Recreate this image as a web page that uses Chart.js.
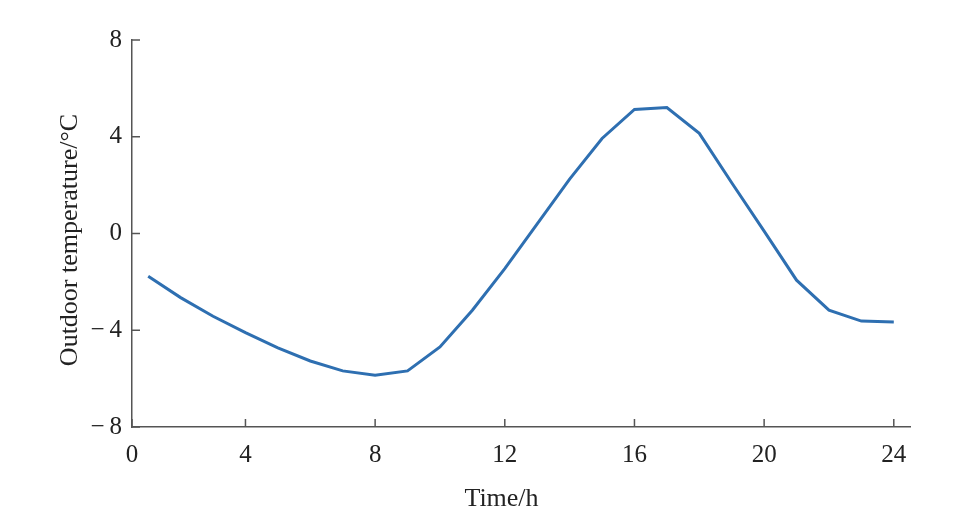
<!DOCTYPE html>
<html>
<head>
<meta charset="utf-8">
<script src="https://cdn.jsdelivr.net/npm/chart.js@4/dist/chart.umd.min.js"></script>
<style>
  html, body { margin: 0; padding: 0; background: #fff; }
  #wrap { width: 975px; height: 521px; }
</style>
</head>
<body>
<div id="wrap"><canvas id="tempChart" width="975" height="521"></canvas></div>
<script>
const hours = [1, 2, 3, 4, 5, 6, 7, 8, 9, 10, 11, 12, 13, 14, 15, 16, 17, 18, 19, 20, 21, 22, 23, 24];
const temps = [-1.77, -2.65, -3.42, -4.1, -4.73, -5.27, -5.68, -5.86, -5.68, -4.69, -3.17, -1.45,
               0.4, 2.25, 3.93, 5.13, 5.21, 4.14, 2.1, 0.1, -1.93, -3.17, -3.62, -3.66];
const xTickValues = [0.5, 4, 8, 12, 16, 20, 24];
const xTickLabels = ["0", "4", "8", "12", "16", "20", "24"];
const yTickValues = [-8, -4, 0, 4, 8];

const axisColor = "#555555";
const fontFamily = "'Liberation Serif', 'Times New Roman', Times, serif";

// inward tick marks, as in the original figure
const innerTicks = {
    id: "innerTicks",
    afterDraw(chart) {
        const c = chart.ctx;
        const x = chart.scales.x, y = chart.scales.y;
        c.save();
        c.strokeStyle = axisColor;
        c.lineWidth = 1.5;
        x.ticks.forEach(t => {
            const px = x.getPixelForValue(t.value);
            c.beginPath();
            c.moveTo(px, y.bottom);
            c.lineTo(px, y.bottom - 8);
            c.stroke();
        });
        y.ticks.forEach(t => {
            const py = y.getPixelForValue(t.value);
            c.beginPath();
            c.moveTo(x.left, py);
            c.lineTo(x.left + 8, py);
            c.stroke();
        });
        c.restore();
    }
};

function draw() {
    new Chart(document.getElementById("tempChart").getContext("2d"), {
        type: "line",
        data: {
            datasets: [{
                data: hours.map((h, i) => ({ x: h, y: temps[i] })),
                borderColor: "#2e6fb1",
                borderWidth: 3,
                pointRadius: 0,
                tension: 0,
                fill: false
            }]
        },
        options: {
            responsive: false,
            animation: false,
            layout: { padding: { top: 40, right: 65, left: 0, bottom: 0 } },
            plugins: { legend: { display: false }, tooltip: { enabled: false } },
            scales: {
                x: {
                    type: "linear",
                    min: 0.5,
                    max: 24.5,
                    afterBuildTicks: s => { s.ticks = xTickValues.map(v => ({ value: v })); },
                    afterFit: s => { s.height = 94; },
                    grid: { display: false, drawTicks: false },
                    border: { display: true, color: axisColor, width: 1.5 },
                    ticks: {
                        padding: 13,
                        color: "#222",
                        font: { family: fontFamily, size: 25 },
                        callback: (v) => xTickLabels[xTickValues.indexOf(v)],
                        maxRotation: 0
                    },
                    title: {
                        display: true,
                        // trailing spaces nudge the centred title left, like the source figure
                        text: "Time/h      ",
                        color: "#222",
                        font: { family: fontFamily, size: 26 },
                        padding: { top: 8, bottom: 6 }
                    }
                },
                y: {
                    type: "linear",
                    min: -8,
                    max: 8,
                    afterBuildTicks: s => { s.ticks = yTickValues.map(v => ({ value: v })); },
                    afterFit: s => { s.width = 132; },
                    grid: { display: false, drawTicks: false },
                    border: { display: true, color: axisColor, width: 1.5 },
                    ticks: {
                        padding: 10,
                        color: "#222",
                        font: { family: fontFamily, size: 25 },
                        callback: v => (v < 0 ? "\u2212\u2009" + Math.abs(v) : String(v))
                    },
                    title: {
                        display: true,
                        text: "Outdoor temperature/°C  ",
                        color: "#222",
                        font: { family: fontFamily, size: 26 },
                        padding: { top: 55, bottom: 0 }
                    }
                }
            }
        },
        plugins: [innerTicks]
    });
}

document.fonts.load("25px 'Liberation Serif'").then(draw, draw);
</script>
</body>
</html>
